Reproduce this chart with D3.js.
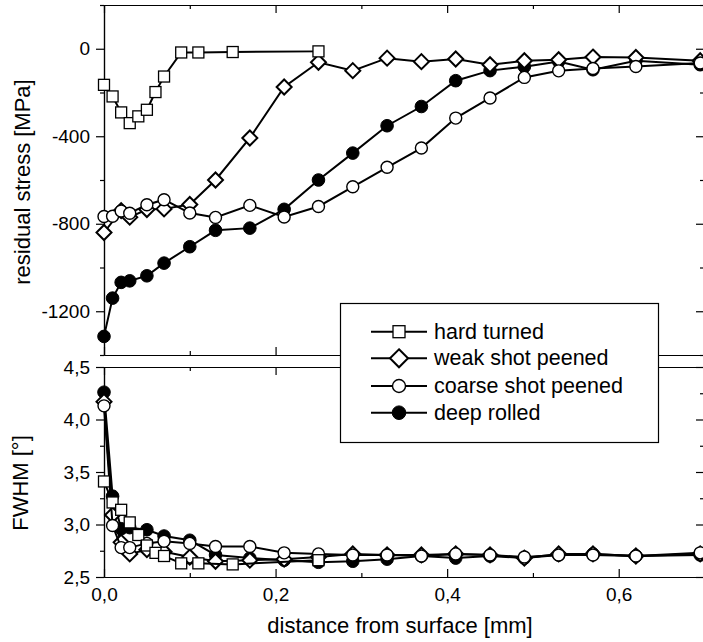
<!DOCTYPE html>
<meta charset="utf-8">
<head>
<script src="https://d3js.org/d3.v7.min.js"></script>
<style>
  body { margin: 0; background: #fff; }
  text { font-family: "Liberation Sans", Arial, sans-serif; fill: #000; }
</style>
</head>
<body>
<div id="chart"></div>
<script>
// depth values [mm]
const xHard = [0, 0.01, 0.02, 0.03, 0.04, 0.05, 0.06, 0.07, 0.09, 0.11, 0.15, 0.25]
const xAll = [0, 0.01, 0.02, 0.03, 0.05, 0.07, 0.1, 0.13, 0.17, 0.21, 0.25, 0.29, 0.33, 0.37, 0.41, 0.45, 0.49, 0.53, 0.57, 0.62, 0.695]
const xWeakStress = [0, 0.02, 0.03, 0.05, 0.07, 0.1, 0.13, 0.17, 0.21, 0.25, 0.29, 0.33, 0.37, 0.41, 0.45, 0.49, 0.53, 0.57, 0.62, 0.695]

// residual stress [MPa]
const stressHard = [-165, -218, -291, -340, -309, -279, -198, -127, -17, -17, -15, -12]
const stressWeak = [-840, -740, -770, -735, -732, -712, -600, -408, -175, -62, -100, -43, -59, -47, -73, -55, -50, -38, -40, -55]
const stressCoarse = [-767, -766, -742, -752, -713, -690, -751, -771, -716, -769, -721, -631, -542, -454, -317, -225, -131, -101, -90, -81, -65]
const stressDeep = [-1315, -1140, -1068, -1061, -1038, -980, -905, -830, -820, -734, -600, -477, -352, -264, -146, -100, -82, -58, -96, -55, -73]

// FWHM [deg]
const fwhmHard = [3.41, 3.21, 3.14, 3.02, 2.90, 2.80, 2.73, 2.70, 2.63, 2.63, 2.62, 2.66]
const fwhmWeak = [4.17, 3.09, 2.83, 2.72, 2.76, 2.74, 2.69, 2.65, 2.66, 2.67, 2.69, 2.72, 2.71, 2.71, 2.72, 2.71, 2.68, 2.72, 2.72, 2.70, 2.72]
const fwhmCoarse = [4.13, 2.99, 2.78, 2.78, 2.82, 2.84, 2.82, 2.79, 2.79, 2.73, 2.72, 2.71, 2.71, 2.70, 2.72, 2.71, 2.69, 2.71, 2.71, 2.70, 2.73]
const fwhmDeep = [4.26, 3.27, 2.96, 2.97, 2.95, 2.89, 2.85, 2.71, 2.68, 2.66, 2.64, 2.65, 2.67, 2.70, 2.68, 2.70, 2.68, 2.71, 2.72, 2.70, 2.71]

const legendLabels = ["hard turned", "weak shot peened", "coarse shot peened", "deep rolled"]

const xTicks = [0, 0.2, 0.4, 0.6]
const xMinor = [0.1, 0.3, 0.5, 0.7]
const stressTicks = [-1200, -800, -400, 0]
const stressMinor = [-1400, -1000, -600, -200, 200]
const fwhmTicks = [2.5, 3.0, 3.5, 4.0, 4.5]
const fwhmMinor = [2.75, 3.25, 3.75, 4.25]

const locale = d3.formatLocale({decimal: ",", thousands: ".", grouping: [3], currency: ["", ""], minus: "-"})
const fmt1 = locale.format(".1f")
const fmt0 = locale.format("d")

const svg = d3.select("#chart").append("svg")
    .attr("width", 703)
    .attr("height", 642)

const x = d3.scaleLinear().domain([0, 0.7]).range([104, 704.5])
const yS = d3.scaleLinear().domain([-1400, 200]).range([355, 5])
const yF = d3.scaleLinear().domain([2.5, 4.5]).range([577, 367])

function drawFrame(y, majors, minors, fmt, xLabels) {
    const g = svg.append("g")
    const [y0, y1] = y.range()
    // left, outward ticks with labels
    g.append("g").attr("transform", "translate(104,0)")
        .call(d3.axisLeft(y).tickValues(majors).tickSize(8).tickSizeOuter(0).tickPadding(6).tickFormat(fmt))
    g.append("g").attr("transform", "translate(104,0)")
        .call(d3.axisLeft(y).tickValues(minors.filter(v => y(v) <= y0 && y(v) >= y1)).tickSize(4).tickSizeOuter(0).tickFormat(""))
    // right, inward
    g.append("g").attr("transform", "translate(704,0)")
        .call(d3.axisRight(y).tickValues(majors).tickSize(-8).tickSizeOuter(0).tickFormat(""))
    g.append("g").attr("transform", "translate(704,0)")
        .call(d3.axisRight(y).tickValues(minors).tickSize(-4).tickSizeOuter(0).tickFormat(""))
    // bottom, inward
    g.append("g").attr("transform", `translate(0,${y0})`)
        .call(d3.axisBottom(x).tickValues(xTicks).tickSize(-8).tickSizeOuter(0).tickPadding(11)
            .tickFormat(xLabels ? fmt1 : ""))
    g.append("g").attr("transform", `translate(0,${y0})`)
        .call(d3.axisBottom(x).tickValues(xMinor).tickSize(-4).tickSizeOuter(0).tickFormat(""))
    // top, inward
    g.append("g").attr("transform", `translate(0,${y1})`)
        .call(d3.axisTop(x).tickValues(xTicks).tickSize(-8).tickSizeOuter(0).tickFormat(""))
    g.append("g").attr("transform", `translate(0,${y1})`)
        .call(d3.axisTop(x).tickValues(xMinor).tickSize(-4).tickSizeOuter(0).tickFormat(""))
    g.selectAll("text").style("font-size", "19px").style("font-family", "'Liberation Sans', Arial, sans-serif")
    g.selectAll("path, line").attr("stroke", "#000").attr("stroke-width", 1.2)
}

drawFrame(yS, stressTicks, stressMinor, fmt0, false)
drawFrame(yF, fwhmTicks, fwhmMinor, fmt1, true)

// marker shapes
function marker(sel, kind, s) {
    if (kind === "square") {
        sel.append("rect").attr("x", -s.sq / 2).attr("y", -s.sq / 2).attr("width", s.sq).attr("height", s.sq)
            .attr("fill", "#fff").attr("stroke", "#000").attr("stroke-width", 1.3)
    } else if (kind === "diamond") {
        const d = s.dm
        sel.append("path").attr("d", `M0,${-d}L${d},0L0,${d}L${-d},0Z`)
            .attr("fill", "#fff").attr("stroke", "#000").attr("stroke-width", 2)
    } else if (kind === "open") {
        sel.append("circle").attr("r", s.oc).attr("fill", "#fff").attr("stroke", "#000").attr("stroke-width", 1.4)
    } else {
        sel.append("circle").attr("r", s.fc).attr("fill", "#000").attr("stroke", "#000")
    }
}

const sizes = {sq: 11, dm: 7.5, oc: 6, fc: 6.3}

function drawSeries(xs, ys, y, kind) {
    const pts = xs.map((v, i) => [v, ys[i]])
    const g = svg.append("g")
    g.append("path")
        .datum(pts)
        .attr("fill", "none")
        .attr("stroke", "#000")
        .attr("stroke-width", 2)
        .attr("d", d3.line().x(d => x(d[0])).y(d => y(d[1])))
    g.selectAll("g.m")
        .data(pts)
        .enter()
        .append("g")
        .attr("class", "m")
        .attr("transform", d => `translate(${x(d[0])},${y(d[1])})`)
        .each(function () { marker(d3.select(this), kind, sizes) })
}

// upper panel
drawSeries(xAll, stressDeep, yS, "filled")
drawSeries(xWeakStress, stressWeak, yS, "diamond")
drawSeries(xAll, stressCoarse, yS, "open")
drawSeries(xHard, stressHard, yS, "square")

// lower panel
drawSeries(xAll, fwhmDeep, yF, "filled")
drawSeries(xAll, fwhmWeak, yF, "diamond")
drawSeries(xAll, fwhmCoarse, yF, "open")
drawSeries(xHard, fwhmHard, yF, "square")

// axis titles
svg.append("text")
    .attr("transform", "translate(30,182) rotate(-90)")
    .attr("text-anchor", "middle")
    .style("font-size", "22px")
    .text("residual stress [MPa]")

svg.append("text")
    .attr("transform", "translate(28,483) rotate(-90)")
    .attr("text-anchor", "middle")
    .style("font-size", "22px")
    .text("FWHM [°]")

svg.append("text")
    .attr("x", 400)
    .attr("y", 633)
    .attr("text-anchor", "middle")
    .style("font-size", "22px")
    .text("distance from surface [mm]")

// legend
const legend = svg.append("g")
legend.append("rect")
    .attr("x", 340.5).attr("y", 303.5)
    .attr("width", 318).attr("height", 139)
    .attr("fill", "#fff").attr("stroke", "#000").attr("stroke-width", 1.2)

const kinds = ["square", "diamond", "open", "filled"]
const rowY = [331.7, 358.3, 386, 412.7]
const legSizes = {sq: 12, dm: 9, oc: 6.5, fc: 6.8}
legendLabels.forEach((lab, i) => {
    const row = legend.append("g").attr("transform", `translate(0,${rowY[i]})`)
    row.append("line").attr("x1", 371).attr("x2", 427).attr("y1", 0).attr("y2", 0)
        .attr("stroke", "#000").attr("stroke-width", 2)
    const m = row.append("g").attr("transform", "translate(399,0)")
    marker(m, kinds[i], legSizes)
    row.append("text").attr("x", 434).attr("y", 7)
        .style("font-size", "21.5px")
        .text(lab)
})
</script>
</body>
